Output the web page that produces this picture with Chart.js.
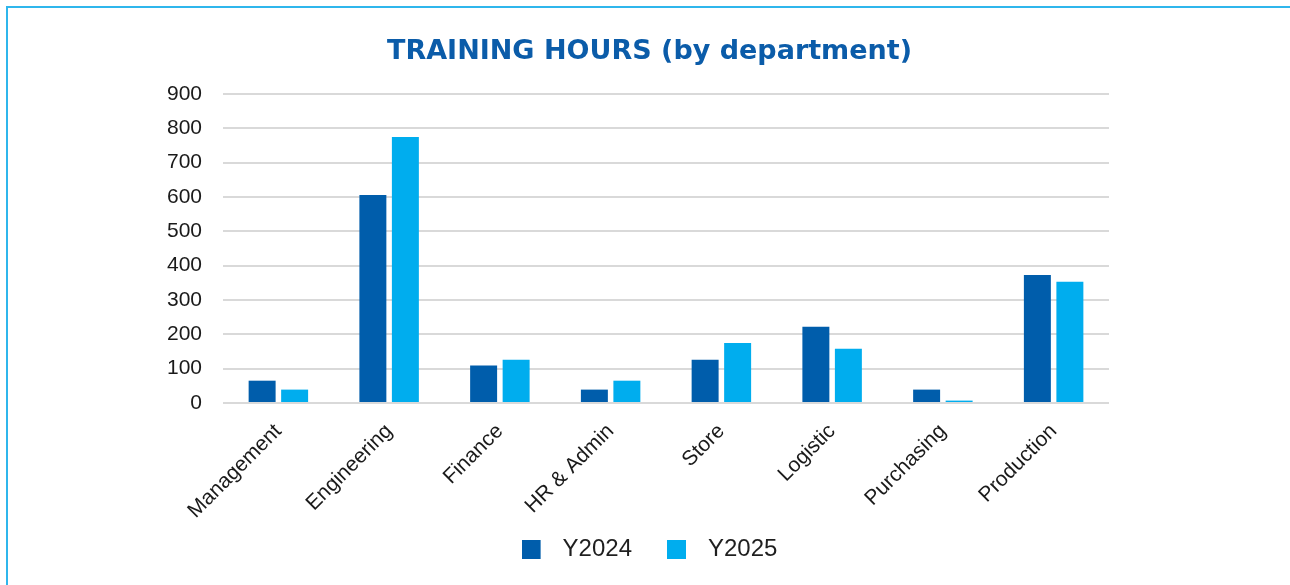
<!DOCTYPE html>
<html>
<head>
<meta charset="utf-8">
<script src="https://cdn.jsdelivr.net/npm/chart.js@4.4.1/dist/chart.umd.min.js"></script>
<style>
  html, body { margin: 0; padding: 0; background: #ffffff; overflow: hidden; }
  #wrap { position: relative; width: 1290px; height: 585px; overflow: hidden; }
  #frame { position: absolute; left: 6px; top: 6px; width: 1400px; height: 700px;
           border-top: 2px solid #2fb6ec; border-left: 2px solid #2fb6ec; box-sizing: border-box; }
  canvas { position: absolute; left: 0; top: 0; }
</style>
</head>
<body>
<div id="wrap">
  <div id="frame"></div>
  <canvas id="chart" width="1290" height="585"></canvas>
</div>
<script>
const categories = ['Management', 'Engineering', 'Finance', 'HR & Admin', 'Store', 'Logistic', 'Purchasing', 'Production'];
const seriesNames = ['Y2024', 'Y2025'];
const y2024 = [65, 606, 109, 39, 126, 222, 39, 373];
const y2025 = [39, 775, 126, 65, 175, 158, 7, 353];
const yTicks = [0, 100, 200, 300, 400, 500, 600, 700, 800, 900];
const colors = ['#005dab', '#00adee'];

function legendSwatch(color) {
  const c = document.createElement('canvas');
  c.width = 29; c.height = 19;
  const g = c.getContext('2d');
  g.fillStyle = color;
  g.fillRect(0, 0, 19, 19);
  return c;
}
const swatches = colors.map(legendSwatch);

const noLabelClip = {
  id: 'noLabelClip',
  afterLayout(chart) {
    const sx = chart.scales.x;
    if (sx) sx._computeLabelArea = function () { return undefined; };
  }
};

const ctx = document.getElementById('chart').getContext('2d');
new Chart(ctx, {
  type: 'bar',
  plugins: [noLabelClip],
  data: {
    labels: categories,
    datasets: [
      { label: seriesNames[0], data: y2024, backgroundColor: colors[0], borderWidth: 0 },
      { label: seriesNames[1], data: y2025, backgroundColor: colors[1], borderWidth: 0 }
    ]
  },
  options: {
    responsive: false,
    animation: false,
    devicePixelRatio: 1,
    categoryPercentage: 0.587,
    barPercentage: 0.83,
    layout: { padding: { left: 9, right: 0, top: 0, bottom: 13.5 } },
    plugins: {
      title: {
        display: true,
        text: 'TRAINING HOURS (by department)',
        color: '#0b5ca9',
        font: { family: 'DejaVu Sans', size: 27, weight: 'bold', lineHeight: 1.2 },
        padding: { top: 36, bottom: 25.6 }
      },
      legend: {
        display: true,
        position: 'bottom',
        labels: {
          font: { family: 'Liberation Sans', size: 24 },
          color: '#1f1f1f',
          usePointStyle: true,
          pointStyleWidth: 29,
          boxHeight: 19,
          padding: 35,
          generateLabels: function (chart) {
            const items = Chart.defaults.plugins.legend.labels.generateLabels(chart);
            items.forEach((it, i) => { it.pointStyle = swatches[i]; });
            return items;
          }
        }
      },
      tooltip: { enabled: false }
    },
    scales: {
      x: {
        grid: { display: false, drawTicks: false },
        border: { display: false },
        ticks: {
          font: { family: 'Liberation Sans', size: 21 },
          color: '#1a1a1a',
          maxRotation: 45,
          minRotation: 45,
          padding: 16,
          autoSkip: false
        },
        afterFit: function (s) { s.height = 99.5; }
      },
      y: {
        min: 0,
        max: 900,
        grid: { color: '#d9d9d9', lineWidth: 2, drawTicks: false },
        border: { display: false },
        ticks: {
          stepSize: 100,
          font: { family: 'Liberation Sans', size: 21 },
          color: '#1a1a1a',
          padding: 21
        },
        afterBuildTicks: function (s) { s.ticks = yTicks.map(v => ({ value: v })); },
        afterFit: function (s) { s.width = 214; }
      },
      yRight: {
        position: 'right',
        display: true,
        grid: { display: false, drawTicks: false },
        border: { display: false },
        ticks: { display: false },
        afterFit: function (s) { s.width = 181; }
      }
    }
  }
});
</script>
</body>
</html>
